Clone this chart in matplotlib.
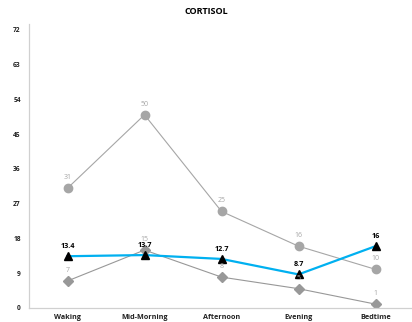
import matplotlib
matplotlib.use("Agg")
import matplotlib.pyplot as plt

categories = ["Waking", "Mid-Morning", "Afternoon", "Evening", "Bedtime"]
series_circle = [31, 50, 25, 16, 10]
series_diamond = [7, 15, 8, 5, 1]
series_cortisol = [13.4, 13.7, 12.7, 8.7, 16]
yticks = [0, 9, 18, 27, 36, 45, 54, 63, 72]

plt.rcParams['font.family'] = ['Open Sans', 'DejaVu Sans']

fig = plt.figure(figsize=(4.12, 3.22), dpi=100)
W, H = 412, 322
left, right = 29, 414
bottom, top = 308, 24
ax = fig.add_axes([left / W, 1 - bottom / H, (right - left) / W, (bottom - top) / H])

x = list(range(len(categories)))
gray1 = "#A6A6A6"
gray2 = "#989898"
blue = "#00B0F0"

ax.plot(x, series_circle, color=gray1, lw=0.8, marker='o', ms=6, mfc=gray1, mec=gray1, zorder=2)
ax.plot(x, series_diamond, color=gray2, lw=0.8, marker='D', ms=4.8, mfc=gray2, mec=gray2, zorder=2)
ax.plot(x, series_cortisol, color=blue, lw=1.6, marker='^', ms=5.5, mfc='black', mec='black', zorder=3)

for xi, v in zip(x, series_circle):
    ax.annotate(f"{v:g}", (xi, v), xytext=(0, 5), textcoords='offset points', ha='center', va='bottom',
                fontsize=5, color=gray1)
for xi, v in zip(x, series_diamond):
    ax.annotate(f"{v:g}", (xi, v), xytext=(0, 5), textcoords='offset points', ha='center', va='bottom',
                fontsize=5, color=gray1)
for xi, v in zip(x, series_cortisol):
    ax.annotate(f"{v:g}", (xi, v), xytext=(0, 4.5), textcoords='offset points', ha='center', va='bottom',
                fontsize=5.2, color='black', fontweight='bold')

ax.set_xlim(-0.5, 4.5)
ax.set_ylim(0, 73.5)
ax.set_yticks(yticks)
ax.set_yticklabels([str(t) for t in yticks], fontsize=4.8, fontweight='bold', color='#222222')
ax.set_xticks(x)
ax.set_xticklabels(categories, fontsize=5.2, fontweight='bold', color='#222222')
ax.tick_params(axis='y', length=0, pad=6)
ax.tick_params(axis='x', length=0, pad=4)
for s in ['top', 'right']:
    ax.spines[s].set_visible(False)
for s in ['left', 'bottom']:
    ax.spines[s].set_color('#D0D0D0')
    ax.spines[s].set_linewidth(0.9)

fig.text(206 / W, 1 - 12 / H, "CORTISOL", ha='center', va='center', fontsize=6.5, fontweight='bold', color='black')

fig.savefig("out.png", dpi=100)
